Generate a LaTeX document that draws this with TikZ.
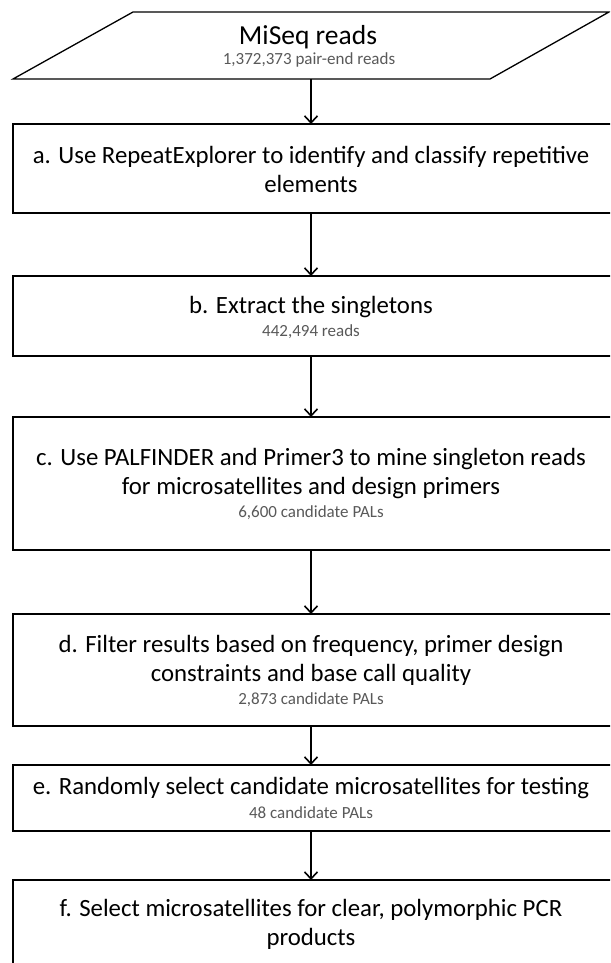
\documentclass[tikz,border=0pt]{standalone}
\usepackage{fontspec}
\setmainfont{Carlito}
\usetikzlibrary{arrows.meta}
\definecolor{subgray}{HTML}{595959}
\begin{document}
\begin{tikzpicture}[x=1pt,y=-1pt,
  boxst/.style={draw=black,line width=1.3pt,minimum width=599pt,inner sep=0pt,outer sep=0pt,anchor=north},
  maintext/.style={font=\fontsize{24.8}{29}\selectfont,inner sep=0pt,align=center},
  titletext/.style={font=\fontsize{27.5}{32}\selectfont,inner sep=0pt},
  subtext/.style={font=\fontsize{17}{19}\selectfont,text=subgray,inner sep=0pt},
  arr/.style={line width=1.8pt,-{Straight Barb[length=7pt,width=13pt,line width=1.6pt]}}]
\useasboundingbox (0,0) rectangle (610,963);
\clip (0,0) rectangle (610,963);
\fill[white] (0,0) rectangle (610,963);
\coordinate (col) at (311,0);
% input parallelogram
\draw[line width=1.3pt,line join=miter] (133,12) -- (609,12) -- (490,79) -- (13,79) -- cycle;
\coordinate (pin) at (311,79);
\node[titletext] (tin) at (308,37) {MiSeq reads};
\node[subtext] (sin) at (309,60) {1,372,373 pair-end reads};
% boxes
\node[boxst,minimum height=89pt] (ba) at (312.5,124) {};
\node[boxst,minimum height=80pt] (bb) at (312.5,276) {};
\node[boxst,minimum height=133pt] (bc) at (312.5,417) {};
\node[boxst,minimum height=112pt] (bd) at (312.5,614) {};
\node[boxst,minimum height=66pt] (be) at (312.5,765) {};
\node[boxst,minimum height=100pt] (bf) at (312.5,880) {};
% texts
\node[maintext] (ta) at (311,169) {a. Use RepeatExplorer to identify and classify repetitive\\elements};
\node[maintext] (tb) at (311,307) {b. Extract the singletons};
\node[subtext] (sb) at (311,332) {442,494 reads};
\node[maintext] (tc) at (311,473.5) {c. Use PALFINDER and Primer3 to mine singleton reads\\for microsatellites and design primers};
\node[subtext] (sc) at (311,513) {6,600 candidate PALs};
\node[maintext] (td) at (311,660) {d. Filter results based on frequency, primer design\\constraints and base call quality};
\node[subtext] (sd) at (311,700) {2,873 candidate PALs};
\node[maintext] (te) at (311,788) {e. Randomly select candidate microsatellites for testing};
\node[subtext] (se) at (311,813) {48 candidate PALs};
\node[maintext] (tf) at (311,924.5) {f. Select microsatellites for clear, polymorphic PCR\\products};
% arrows
\draw[arr] (pin) -- (ba.north -| col);
\draw[arr] (ba.south -| col) -- (bb.north -| col);
\draw[arr] (bb.south -| col) -- (bc.north -| col);
\draw[arr] (bc.south -| col) -- (bd.north -| col);
\draw[arr] (bd.south -| col) -- (be.north -| col);
\draw[arr] (be.south -| col) -- (bf.north -| col);
\end{tikzpicture}
\end{document}
